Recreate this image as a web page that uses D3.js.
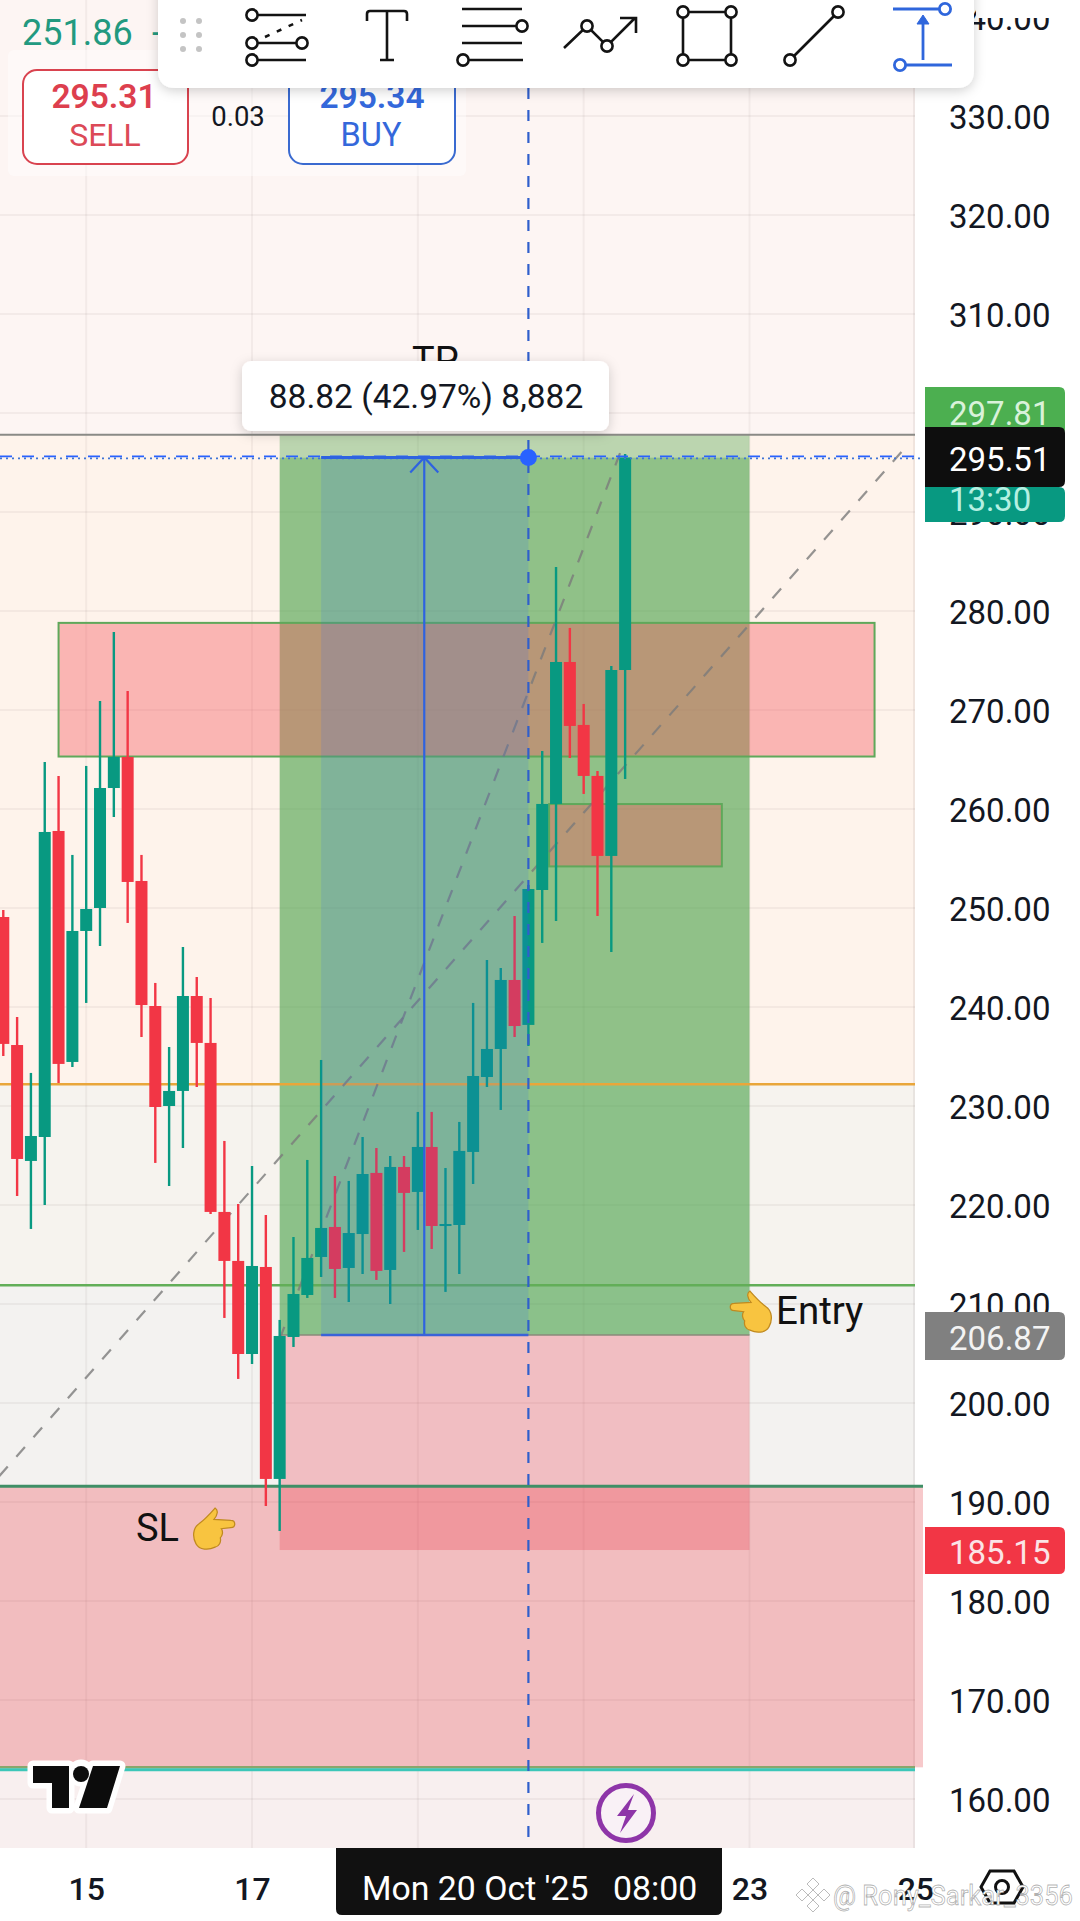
<!DOCTYPE html>
<html><head><meta charset="utf-8">
<script src="https://d3js.org/d3.v7.min.js"></script>
<style>html,body{margin:0;padding:0;background:#fff}svg{display:block}text{font-family:Roboto,sans-serif}</style>
</head><body><svg id="c" width="1080" height="1921"></svg>
<script>
// ---- data: 4h candles, index 0 = 15 Oct 00:00
const firstIndex = -6;
const opens  = [249.09,236.16,224.45,226.87,257.78,234.45,247.68,250.00,262.12,265.26,252.73,240.10,230.00,231.52,241.11,236.37,219.30,214.35,204.95,213.74,192.33,206.67,210.91,214.75,217.78,213.64,217.07,223.24,213.44,223.84,221.32,225.86,217.98,217.98,225.36,232.93,235.76,242.73,238.19,251.82,260.51,274.85,268.49,263.34,255.26,274.04];
const highs  = [249.80,238.99,233.34,264.75,263.34,255.36,264.35,270.91,277.88,271.92,255.36,242.43,235.96,246.06,243.03,240.91,226.47,220.10,223.94,218.99,208.39,216.77,224.55,234.65,222.93,222.43,226.87,225.76,224.95,224.95,229.40,229.40,223.74,228.39,240.41,244.75,243.94,249.19,252.33,265.86,284.45,278.29,270.61,263.84,274.45,295.86];
const lows   = [235.05,220.91,217.58,220.00,232.33,233.94,240.41,246.16,259.19,248.49,236.97,224.25,221.92,225.76,231.92,219.09,208.59,202.43,203.94,189.60,187.07,205.66,210.61,212.73,210.61,210.20,213.03,212.43,210.00,215.26,217.48,215.56,211.22,213.03,222.12,231.92,229.60,236.97,236.06,246.47,248.69,265.15,261.52,249.19,245.56,263.03];
const closes = [236.27,224.65,226.97,257.68,234.25,247.68,249.90,262.12,265.26,252.63,240.20,229.90,231.52,241.11,236.37,219.30,214.35,204.95,213.84,192.33,206.77,211.01,214.65,217.68,213.54,217.17,223.13,213.34,223.84,221.22,225.86,217.88,218.08,225.46,233.03,235.76,242.73,238.08,251.92,260.51,274.85,268.39,263.34,255.26,274.04,295.51];
const priceTicks = [160,170,180,190,200,210,220,230,240,250,260,270,280,290,300,310,320,330,340];
const timeTickIndex = [0,12,24,36,48,60];
const timeTickLabels = ['15','17','19','21','23','25'];
const gridIndex = [0,12,24,36,48];
// drawings (index, price)
const targetTop = 297.81, entry = 206.87, stop = 185.15, last = 295.51;
const drawStart = 14, drawEnd = 48, measureStart = 17, measureEnd = 32;
const zoneA = {i0:-2.0, i1:57.05, hi:278.8, lo:265.3};
const zoneB = {i0:33.5, i1:46.0, hi:260.5, lo:254.2};
const bandTop = 191.6, bandBottom = 163.2;
const orangeLevel = 232.2, greenLevel = 211.9;
const diagA = [[-6.3,192.6],[59.25,296.47]];
const diagB = [[14,206.46],[38.7,296.2]];

// ---- scales
const x = d3.scaleLinear().domain([0,48]).range([86.2,749.5]);
const y = d3.scaleLinear().domain([160,330]).range([1799,116]);
const svg = d3.select('#c');
const W = 915, CH = 1848, bw = 12;
const RED='#F23645', GREEN='#089981', BLUE='#2962FF', INK='#131722';

const defs = svg.append('defs');
const f = defs.append('filter').attr('id','sh').attr('x','-5%').attr('y','-20%').attr('width','110%').attr('height','150%');
f.append('feDropShadow').attr('dx',0).attr('dy',3).attr('stdDeviation',6).attr('flood-color','#000').attr('flood-opacity',.18);

function rect(g,x0,y0,w,h,fill,extra){const r=g.append('rect').attr('x',x0).attr('y',y0).attr('width',w).attr('height',h).attr('fill',fill);if(extra)for(const k in extra)r.attr(k,extra[k]);return r;}
function hline(g,yy,x0,x1,c,wd,dash){const l=g.append('line').attr('x1',x0).attr('x2',x1).attr('y1',yy).attr('y2',yy).attr('stroke',c).attr('stroke-width',wd);if(dash)l.attr('stroke-dasharray',dash);return l;}
function txt(g,s,xx,yy,size,fill,opts){opts=opts||{};const t=g.append('text').attr('x',xx).attr('y',yy).attr('font-size',size).attr('fill',fill).attr('text-anchor',opts.a||'start').attr('font-weight',opts.w||400).text(s);if(opts.mid)t.attr('dominant-baseline','central');return t;}

// ---- background zones
const bg = svg.append('g');
rect(bg,0,0,W,y(targetTop),'#FDF5F3');
rect(bg,0,y(targetTop),W,y(orangeLevel)-y(targetTop),'#FEF3EB');
rect(bg,0,y(orangeLevel),W,y(greenLevel)-y(orangeLevel),'#F6F3EE');
rect(bg,0,y(greenLevel),W,y(bandTop)-y(greenLevel),'#F3F2F0');
rect(bg,0,y(bandTop),W,CH-y(bandTop),'#F8EFEF');

// ---- grid
const grid = svg.append('g');
grid.selectAll('.h').data(priceTicks.slice(0,-1)).join('line').attr('x1',0).attr('x2',W).attr('y1',d=>y(d)).attr('y2',d=>y(d)).attr('stroke','rgba(60,40,40,.05)').attr('stroke-width',2);
grid.selectAll('.v').data(gridIndex).join('line').attr('x1',d=>x(d)).attr('x2',d=>x(d)).attr('y1',0).attr('y2',CH).attr('stroke','rgba(60,40,40,.05)').attr('stroke-width',2);
grid.append('line').attr('x1',W-1).attr('x2',W-1).attr('y1',0).attr('y2',CH).attr('stroke','rgba(60,40,40,.07)').attr('stroke-width',2);

// ---- drawings below the candles
const dr = svg.append('g');
rect(dr,0,y(bandTop),923,y(bandBottom)-y(bandTop),'rgba(228,60,70,.28)');
rect(dr,x(drawStart),y(targetTop),x(drawEnd)-x(drawStart),y(last)-y(targetTop),'rgba(70,160,70,.36)');
rect(dr,x(drawStart),y(last),x(drawEnd)-x(drawStart),y(entry)-y(last),'rgba(70,160,70,.6)');
rect(dr,x(drawStart),y(entry),x(drawEnd)-x(drawStart),y(stop)-y(entry),'rgba(235,50,70,.27)');
for(const z of [zoneA,zoneB]){
  rect(dr,x(z.i0),y(z.hi),x(z.i1)-x(z.i0),y(z.lo)-y(z.hi),'rgba(245,88,95,.4)',{stroke:'#5FA85A','stroke-width':2});
}
hline(dr,y(orangeLevel),0,W,'#E9A63A',2.5);
hline(dr,y(greenLevel),0,W,'#62AE58',2.5);
hline(dr,y(bandTop),0,923,'#3F8F66',3);
hline(dr,y(bandBottom),0,W,'#8AA66C',2.5);
hline(dr,y(bandBottom)+2.5,0,W,'#3CC6B8',3);
hline(dr,y(targetTop),0,W,'#8A8A86',2);
hline(dr,y(entry),x(drawStart),x(drawEnd),'#8A8A7A',1.5);
const lineGen = d3.line().x(d=>x(d[0])).y(d=>y(d[1]));
for(const d of [diagA,diagB]){
  dr.append('path').attr('d',lineGen(d)).attr('fill','none').attr('stroke','#7B7B7B').attr('stroke-width',2.2).attr('stroke-dasharray','13 13').attr('opacity',.8);
}

// ---- candles
const candles = opens.map((o,k)=>({i:firstIndex+k,o,h:highs[k],l:lows[k],c:closes[k]}));
const cg = svg.append('g');
const col = d=>d.c>=d.o?GREEN:RED;
cg.selectAll('.w').data(candles).join('line').attr('x1',d=>x(d.i)).attr('x2',d=>x(d.i)).attr('y1',d=>y(d.h)).attr('y2',d=>y(d.l)).attr('stroke',col).attr('stroke-width',2.4);
cg.selectAll('.b').data(candles).join('rect').attr('x',d=>x(d.i)-bw/2).attr('width',bw).attr('y',d=>y(Math.max(d.o,d.c))).attr('height',d=>Math.max(2,Math.abs(y(d.o)-y(d.c)))).attr('fill',col);

// ---- measure tool + crosshair
const m = svg.append('g');
const mx0=x(measureStart), mx1=x(measureEnd), mxc=(mx0+mx1)/2-0.5;
rect(m,mx0,y(last),mx1-mx0,y(entry)-y(last),'rgba(41,98,255,.15)');
m.append('line').attr('x1',mxc).attr('x2',mxc).attr('y1',y(last)).attr('y2',y(entry)).attr('stroke','#2E63E0').attr('stroke-width',2.2);
m.append('path').attr('d',`M${mxc-14},${y(last)+15}L${mxc},${y(last)}L${mxc+14},${y(last)+15}`).attr('fill','none').attr('stroke','#2E63E0').attr('stroke-width',2.2);
hline(m,y(entry),mx0,mx1,'#3A63D8',2.5);
hline(m,y(last)-1,0,920,BLUE,1.8,'12 10');
hline(m,y(last)+1,0,920,'#3F74D6',1.8,'2 4');
hline(m,y(last),mx0,mx1,'#2E63E0',3);
m.append('line').attr('x1',x(measureEnd)).attr('x2',x(measureEnd)).attr('y1',0).attr('y2',CH).attr('stroke','#2F5FCC').attr('stroke-width',2.2).attr('stroke-dasharray','11 11');
m.append('circle').attr('cx',x(measureEnd)).attr('cy',y(last)).attr('r',8.5).attr('fill',BLUE);

// ---- annotations
const an = svg.append('g');
const handPath = 'M21 1C24 3 24 7 20 12L36 13C41 13 41 20 36 20L27 21C29 24 28 28 26 30C27 34 25 38 21 39C15 42 6 42 3 36C-1 29 0 20 6 16C10 13 15 8 21 1Z';
an.append('path').attr('d',handPath).attr('transform','translate(193,1507) scale(1.05,1.03)').attr('fill','#F8C440').attr('stroke','#C08A20').attr('stroke-width',1.2);
an.append('path').attr('d',handPath).attr('transform','translate(772,1290) scale(-1.05,1.03)').attr('fill','#F8C440').attr('stroke','#C08A20').attr('stroke-width',1.2);
txt(an,'SL',136,1541,38,'#111',{});
txt(an,'Entry',776,1324,38.5,'#111',{});
txt(an,'TP',412,374,38,'#111',{});
// tooltip
rect(an,242,361,367,70,'#fff',{rx:9,filter:'url(#sh)'});
txt(an,'88.82 (42.97%) 8,882',426,396,33.5,INK,{a:'middle',mid:true});

// TV logo
const logo = svg.append('g');
const tvT='M33 1766H69V1808H52V1783H33Z', tvS='M93 1766H120L107 1808H79Z';
logo.append('path').attr('d',tvT+tvS).attr('fill','#fff').attr('stroke','#fff').attr('stroke-width',11).attr('stroke-linejoin','round');
logo.append('circle').attr('cx',81).attr('cy',1773).attr('r',8).attr('fill','#fff').attr('stroke','#fff').attr('stroke-width',11);
logo.append('path').attr('d',tvT+tvS).attr('fill','#0c0c0c');
logo.append('circle').attr('cx',81).attr('cy',1774).attr('r',8).attr('fill','#0c0c0c');
// bolt
const bolt = svg.append('g');
bolt.append('circle').attr('cx',626).attr('cy',1813).attr('r',27.5).attr('fill','#F9F1F6').attr('stroke','#8E35A8').attr('stroke-width',5);
bolt.append('path').attr('d','M634 1794L617 1816H626L620 1833L637 1810H628Z').attr('fill','#8E35A8');

// ---- axes
const yAxis = d3.axisRight(y).tickValues(priceTicks).tickSize(0).tickPadding(0).tickFormat(d3.format('.2f'));
const yg = svg.append('g').attr('transform','translate(950,1.5)').call(yAxis);
yg.select('.domain').remove();
yg.selectAll('text').attr('font-size',33).attr('fill',INK).attr('x',-1).style('font-family','Roboto');
const xAxis = d3.axisBottom(x).tickValues(timeTickIndex).tickSize(0).tickPadding(0).tickFormat((d,k)=>timeTickLabels[k]);
const xg = svg.append('g').attr('transform','translate(0,1888)').call(xAxis);
xg.select('.domain').remove();
xg.selectAll('text').attr('font-size',32).attr('font-weight',500).attr('fill',INK).attr('dy','.36em').attr('y',0).style('font-family','Roboto');

// top right cover
rect(svg,976,0,104,18,'#fff');

// ---- price labels
const pl = svg.append('g');
function tag(x0,y0,w,h,c,r){return pl.append('path').attr('d',`M${x0},${y0}H${x0+w-r}Q${x0+w},${y0} ${x0+w},${y0+r}V${y0+h-r}Q${x0+w},${y0+h} ${x0+w-r},${y0+h}H${x0}Z`).attr('fill',c);}
tag(925,387,140,48,'#4CAF50',6);
txt(pl,'297.81',949,413,33,'#D9F2DA',{mid:true});
tag(925,487,140,35,GREEN,6);
txt(pl,'13:30',949,499,33,'#B5F0E2',{mid:true});
tag(925,427,140,60,'#0E0E0E',6);
txt(pl,'295.51',949,459,33,'#fff',{mid:true});
tag(925,1312,140,48,'#808080',6);
txt(pl,'206.87',949,1338,33,'#F3F3F3',{mid:true});
tag(925,1527,140,47,RED,6);
txt(pl,'185.15',949,1552,33,'#FBE4E6',{mid:true});

// ---- time label
const tl = svg.append('g');
tl.append('path').attr('d','M336,1848H722V1909Q722,1915 716,1915H342Q336,1915 336,1909Z').attr('fill','#111');
txt(tl,"Mon 20 Oct '25",362,1888,33.8,'#fff',{mid:true});
txt(tl,'08:00',613,1888,33.8,'#fff',{mid:true});

// ---- trading panel
const tp = svg.append('g');
rect(tp,8,50,458,126,'rgba(255,255,255,.45)',{rx:6});
txt(tp,'251.86',22,33,36,'#22997F',{mid:true});
txt(tp,'-',152,33,36,'#22997F',{mid:true});
rect(tp,23,70,165,94,'#fff',{rx:14,stroke:'#D9434F','stroke-width':2});
rect(tp,289,60,166,104,'#fff',{rx:14,stroke:'#3A6AD0','stroke-width':2});
txt(tp,'295.31',104,96,33.5,'#DD3F4E',{a:'middle',mid:true,w:600});
txt(tp,'SELL',105,135,32,'#DC4A57',{a:'middle',mid:true});
txt(tp,'295.34',372,96,33.5,'#3468DB',{a:'middle',mid:true,w:600});
txt(tp,'BUY',371,135,32.5,'#3468DB',{a:'middle',mid:true});
txt(tp,'0.03',238,116,27.5,INK,{a:'middle',mid:true});

// ---- toolbar
const tb = svg.append('g');
tb.append('path').attr('d','M158,-20H974V70Q974,88 956,88H176Q158,88 158,70Z').attr('fill','#fff').attr('filter','url(#sh)');
for(const px of [183,199]) for(const py of [21,35,49]) tb.append('circle').attr('cx',px).attr('cy',py).attr('r',3).attr('fill','#C4C4C4');
const ic = tb.append('g').attr('fill','none').attr('stroke','#131313').attr('stroke-width',2.6);
const seg=(g,a,b,c,d)=>g.append('line').attr('x1',a).attr('y1',b).attr('x2',c).attr('y2',d);
const dot=(g,a,b)=>g.append('circle').attr('cx',a).attr('cy',b).attr('r',5.6).attr('fill','#fff');
seg(ic,252,15,306,15);seg(ic,252,43,302,43);seg(ic,252,60,306,60);
seg(ic,265,37,302,20).attr('stroke-dasharray','5 8');
dot(ic,252,15);dot(ic,252,43);dot(ic,302,43);dot(ic,252,60);
ic.append('path').attr('d','M367,21V14Q367,11 370,11H404Q407,11 407,14V21M387,11V60M380,60H394');
seg(ic,462,9,522,9);seg(ic,462,26,516,26);seg(ic,462,43,522,43);seg(ic,462,60,523,60);
dot(ic,522,26);dot(ic,463,60);
ic.append('path').attr('d','M564,48L587,26L607,46L635,18M620,18H636V33');
dot(ic,587,26);dot(ic,607,46);
ic.append('path').attr('d','M683,12H731V60H683Z');
dot(ic,683,12);dot(ic,731,12);dot(ic,683,60);dot(ic,731,60);
seg(ic,790,60,838,12);dot(ic,790,60);dot(ic,838,12);
const ib = tb.append('g').attr('fill','none').attr('stroke','#2F66DC').attr('stroke-width',2.8);
seg(ib,893,9,945,9);seg(ib,900,65,952,65);seg(ib,923,60,923,22);
dot(ib,945,9);dot(ib,900,65);
ib.append('path').attr('d','M917,24L923,15L929,24Z').attr('fill','#2F66DC').attr('stroke-width',1);

// ---- hex icon + watermark
const wm = svg.append('g');
wm.append('path').attr('d','M990,1871H1014L1023,1887L1014,1903H990L981,1887Z').attr('fill','none').attr('stroke','#111').attr('stroke-width',3);
wm.append('circle').attr('cx',1002).attr('cy',1887).attr('r',6.5).attr('fill','none').attr('stroke','#111').attr('stroke-width',3);
const dia=(cx,cy,r)=>wm.append('path').attr('d',`M${cx},${cy-r}L${cx+r},${cy}L${cx},${cy+r}L${cx-r},${cy}Z`).attr('fill','#fff').attr('stroke','#bbb').attr('stroke-width',1);
dia(813,1895,5);dia(813,1884,6);dia(813,1906,6);dia(802,1895,6);dia(824,1895,6);
txt(wm,'@ Rony_Sarkar_3356',833,1895,28,'#fff',{mid:true}).attr('stroke','rgba(110,110,110,.55)').attr('stroke-width',.8).attr('textLength',240).attr('lengthAdjust','spacingAndGlyphs');
</script></body></html>
